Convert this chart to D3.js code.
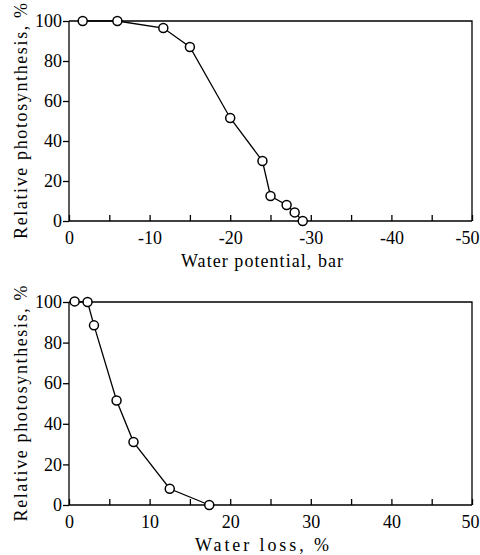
<!DOCTYPE html>
<html>
<head>
<meta charset="utf-8">
<script src="https://cdn.jsdelivr.net/npm/d3@7"></script>
<style>
  body { margin: 0; background: #fff; }
  svg, svg text { font-family: "Liberation Serif", "DejaVu Serif", serif; }
  svg { display: block; }
</style>
</head>
<body>
<svg id="chart" width="480" height="555"></svg>
<script>
// top panel: photosynthesis vs water potential (bar)
var potentialX = [-1.7, -6, -11.7, -15, -20, -24, -25, -27, -28, -29];
var potentialY = [100, 100, 96.5, 87, 51.5, 30, 12.5, 8, 4.3, 0];

// bottom panel: photosynthesis vs water loss (%)
var lossX = [0.7, 2.3, 3.1, 5.9, 8, 12.5, 17.4];
var lossY = [100.3, 100, 88.5, 51.5, 31, 8, 0];

var yTicks = [0, 20, 40, 60, 80, 100];
var potentialTicks = [0, -5, -10, -15, -20, -25, -30, -35, -40, -45, -50];
var lossTicks = [0, 5, 10, 15, 20, 25, 30, 35, 40, 45, 50];

var serif = '"Liberation Serif", "DejaVu Serif", serif';
var svg = d3.select("#chart");

function panel(opts) {
  var left = 69, right = 472;
  var x = d3.scaleLinear().domain(opts.xDomain).range([left, right]);
  var y = d3.scaleLinear().domain([0, 100]).range([opts.bottom, opts.top]);

  var g = svg.append("g").attr("font-family", serif);

  // frame: top and right edges
  g.append("path")
    .attr("d", `M${left},${opts.top}H${right}V${opts.bottom}`)
    .attr("fill", "none").attr("stroke", "#000").attr("stroke-width", 1.3);

  var xAxis = g.append("g")
    .attr("transform", `translate(0,${opts.bottom})`)
    .call(d3.axisBottom(x).tickValues(opts.ticks)
      .tickSize(-6).tickPadding(10)
      .tickFormat(d => d % 10 === 0 ? String(d) : ""));
  xAxis.attr("font-family", serif);
  xAxis.select(".domain").attr("d", `M${left},0H${right}`).attr("stroke-width", 1.3);
  xAxis.selectAll(".tick line").attr("stroke-width", 1.3);
  xAxis.selectAll("text").attr("font-size", 18).attr("fill", "#000");
  // last label sits against the edge, pull it in
  xAxis.selectAll(".tick text").filter(d => Math.abs(d) === 50)
    .attr("text-anchor", "end").attr("dx", 7);

  var yAxis = g.append("g")
    .attr("transform", `translate(${left},0)`)
    .call(d3.axisLeft(y).tickValues(yTicks).tickSize(6).tickPadding(1));
  yAxis.attr("font-family", serif);
  yAxis.select(".domain").attr("d", `M0,${opts.bottom}V${opts.top}`).attr("stroke-width", 1.3);
  yAxis.selectAll(".tick line").attr("stroke-width", 1.3);
  yAxis.selectAll("text").attr("font-size", 18).attr("fill", "#000");

  var pts = opts.xs.map((v, i) => [v, opts.ys[i]]);

  g.append("path")
    .datum(pts)
    .attr("fill", "none").attr("stroke", "#000").attr("stroke-width", 1.3)
    .attr("d", d3.line().x(d => x(d[0])).y(d => y(d[1])));

  g.selectAll("circle.pt")
    .data(pts)
    .enter().append("circle")
    .attr("class", "pt")
    .attr("cx", d => x(d[0]))
    .attr("cy", d => y(d[1]))
    .attr("r", 4.5)
    .attr("fill", "#fff").attr("stroke", "#000").attr("stroke-width", 1.5);

  // axis titles
  g.append("text")
    .attr("x", 262).attr("y", opts.bottom + 46)
    .attr("text-anchor", "middle")
    .attr("font-size", 18)
    .attr("textLength", opts.xTitleLen).attr("lengthAdjust", "spacing")
    .text(opts.xTitle);

  g.append("text")
    .attr("transform", `translate(27,${(opts.top + opts.bottom) / 2}) rotate(-90)`)
    .attr("text-anchor", "middle")
    .attr("font-size", 18)
    .attr("textLength", 236).attr("lengthAdjust", "spacing")
    .text("Relative photosynthesis, %");
}

panel({
  xDomain: [0, -50], ticks: potentialTicks, top: 21, bottom: 221,
  xs: potentialX, ys: potentialY,
  xTitle: "Water potential, bar", xTitleLen: 162
});

panel({
  xDomain: [0, 50], ticks: lossTicks, top: 302, bottom: 505,
  xs: lossX, ys: lossY,
  xTitle: "Water loss, %", xTitleLen: 134
});
</script>
</body>
</html>
